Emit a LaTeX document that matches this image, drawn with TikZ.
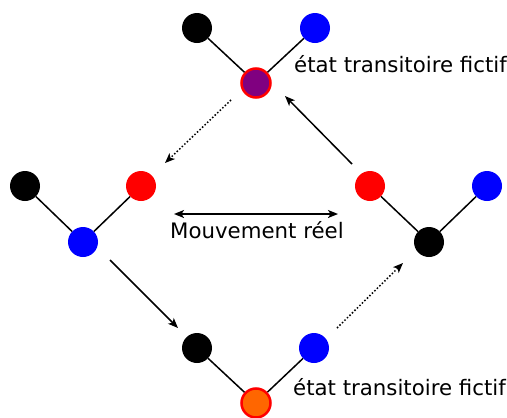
\documentclass[tikz,border=0pt]{standalone}
\usepackage{fontspec}
\setmainfont{DejaVu Sans}
\usetikzlibrary{arrows.meta}
\definecolor{purp}{HTML}{800080}
\definecolor{orng}{HTML}{FF6600}
\begin{document}
\begin{tikzpicture}[x=1pt,y=-1pt,
  atom/.style={circle,inner sep=0pt,minimum size=30pt},
  blk/.style={atom,fill=black},
  blu/.style={atom,fill=blue},
  rd/.style={atom,fill=red},
  ts/.style={atom,draw=red,line width=2.5pt,minimum size=29pt},
  bond/.style={line width=1.5pt},
  tip/.tip={Stealth[length=10pt,width=8pt,inset=2.5pt]},
  mv/.style={line width=1.5pt,-tip},
  mvd/.style={mv,dotted},
  lbl/.style={font=\fontsize{21.3}{25}\selectfont,inner sep=0pt}]
\useasboundingbox (0,0) rectangle (507,418);
% top molecule
\node[blk] (t1) at (197,28) {};
\node[blu] (t2) at (315,28) {};
\node[ts,fill=purp] (t0) at (256,83) {};
\draw[bond] (t1) -- (t0) -- (t2);
% left molecule
\node[blk] (l1) at (25,186) {};
\node[rd] (l2) at (141,186) {};
\node[blu] (l0) at (83,242) {};
\draw[bond] (l1) -- (l0) -- (l2);
% right molecule
\node[rd] (r1) at (370,186) {};
\node[blu] (r2) at (487,186) {};
\node[blk] (r0) at (429,242) {};
\draw[bond] (r1) -- (r0) -- (r2);
% bottom molecule
\node[blk] (b1) at (197,348) {};
\node[blu] (b2) at (314,348) {};
\node[ts,fill=orng] (b0) at (256,403) {};
\draw[bond] (b1) -- (b0) -- (b2);
% labels
\node[lbl,anchor=base west] (tl) at (294,72) {état transitoire fictif};
\node[lbl,anchor=base west] (bl) at (293,395) {état transitoire fictif};
\node[lbl,anchor=base west] (ml) at (170,238) {Mouvement réel};
% arrows
\coordinate (a1s) at (231,100); \coordinate (a1e) at (165,163);
\coordinate (a2s) at (352,164); \coordinate (a2e) at (285,96);
\coordinate (a3s) at (110,260); \coordinate (a3e) at (178,328);
\coordinate (a4s) at (337,328); \coordinate (a4e) at (403,263);
\coordinate (a5s) at (174,214); \coordinate (a5e) at (338,214);
\draw[mvd] (a1s) -- (a1e);
\draw[mv] (a2s) -- (a2e);
\draw[mv] (a3s) -- (a3e);
\draw[mvd] (a4s) -- (a4e);
\draw[line width=1.5pt,tip-tip] (a5s) -- (a5e);
\end{tikzpicture}
\end{document}
